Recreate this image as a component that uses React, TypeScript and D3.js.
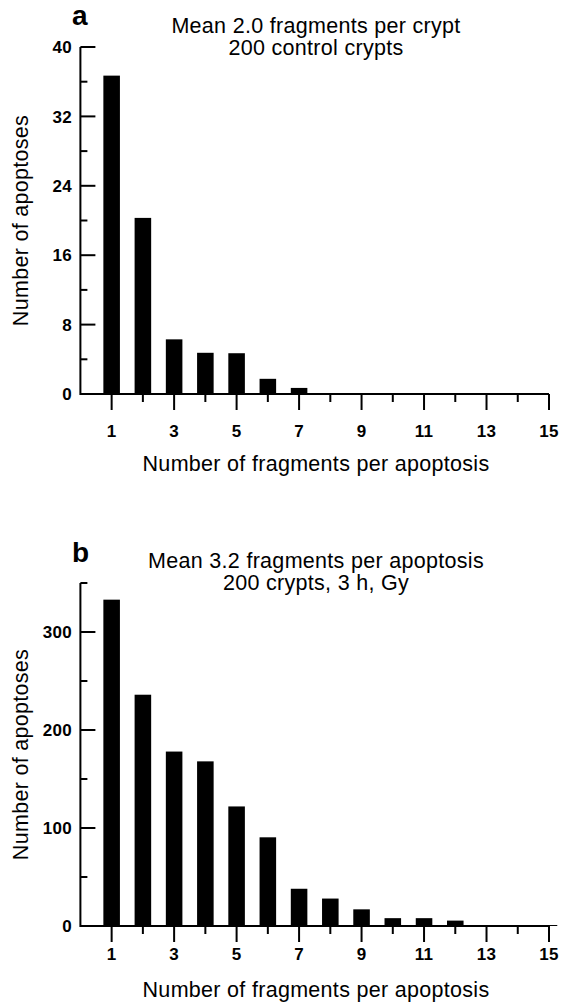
import * as d3 from "d3";

const fragments = d3.range(1, 16);
const controlCounts = [36.7, 20.3, 6.3, 4.75, 4.7, 1.75, 0.7, 0, 0, 0, 0, 0, 0, 0, 0];
const irradiatedCounts = [333, 236, 178, 168, 122, 90.5, 38, 28, 17, 8, 8, 5.5, 1, 1, 1];
const xMajor = [1, 3, 5, 7, 9, 11, 13, 15];
const xMinor = [2, 4, 6, 8, 10, 12, 14];
const yMajorA = [0, 8, 16, 24, 32, 40];
const yMinorA = [4, 12, 20, 28, 36];
const yMajorB = [0, 100, 200, 300];
const yMinorB = [50, 150, 250, 350];

const font = "'Liberation Sans', Arial, Helvetica, sans-serif";
const x = d3.scaleLinear([0, 15], [80.4, 549]);
const barHalf = 0.265;

function Panel({ letter, titles, counts, yDomain, yRange, yMajor, yMinor, titleY, tickLabelY, axisTitleY, letterY }) {
  const y = d3.scaleLinear(yDomain, yRange);
  const y0 = y(0);
  const x0 = x(0);
  const midY = (yRange[0] + yRange[1]) / 2;
  return (
    <g fontFamily={font}>
      <text x={72} y={letterY} fontSize={28} fontWeight="bold">{letter}</text>
      {titles.map((t, i) => (
        <text key={t} x={316} y={titleY[i]} fontSize={21.5} letterSpacing={0.3} textAnchor="middle">{t}</text>
      ))}
      <g fill="black">
        {counts.map((c, i) => c > 0 && (
          <rect key={i} x={x(fragments[i] - barHalf)} width={x(fragments[i] + barHalf) - x(fragments[i] - barHalf)}
            y={y(c)} height={y0 - y(c)} />
        ))}
      </g>
      <g stroke="black" strokeWidth={2} fill="none">
        <path d={`M${x0},${y(yDomain[1])}V${y0}H${x(15)}`} />
        {yMajor.filter((v) => v > 0).map((v) => <line key={v} x1={x0} x2={x0 + 15} y1={y(v)} y2={y(v)} />)}
        {yMinor.map((v) => <line key={v} x1={x0} x2={x0 + 7} y1={y(v)} y2={y(v)} />)}
        {xMajor.map((v) => <line key={v} x1={x(v)} x2={x(v)} y1={y0} y2={y0 + 16} />)}
        {xMinor.map((v) => <line key={v} x1={x(v)} x2={x(v)} y1={y0} y2={y0 + 8} />)}
      </g>
      <g fontSize={17} fontWeight="bold" letterSpacing={0.3}>
        {yMajor.map((v) => (
          <text key={v} x={72} y={y(v)} dy="0.36em" textAnchor="end">{v}</text>
        ))}
        {xMajor.map((v) => (
          <text key={v} x={x(v)} y={tickLabelY} textAnchor="middle">{v}</text>
        ))}
      </g>
      <text x={316} y={axisTitleY} fontSize={21.5} letterSpacing={0.3} textAnchor="middle">Number of fragments per apoptosis</text>
      <text transform={`translate(28,${midY}) rotate(-90)`} fontSize={21.5} letterSpacing={0.3} textAnchor="middle">Number of apoptoses</text>
    </g>
  );
}

export default function App() {
  return (
    <svg width={561} height={1005} style={{ position: "absolute", left: 0, top: 0, background: "white" }}>
      <Panel letter="a" titles={["Mean 2.0 fragments per crypt", "200 control crypts"]}
        counts={controlCounts} yDomain={[0, 40]} yRange={[394, 47]} yMajor={yMajorA} yMinor={yMinorA}
        titleY={[33, 55]} tickLabelY={437} axisTitleY={471} letterY={25} />
      <Panel letter="b" titles={["Mean 3.2 fragments per apoptosis", "200 crypts, 3 h, Gy"]}
        counts={irradiatedCounts} yDomain={[0, 350]} yRange={[926, 583]} yMajor={yMajorB} yMinor={yMinorB}
        titleY={[568, 590]} tickLabelY={960} axisTitleY={997} letterY={562} />
    </svg>
  );
}
